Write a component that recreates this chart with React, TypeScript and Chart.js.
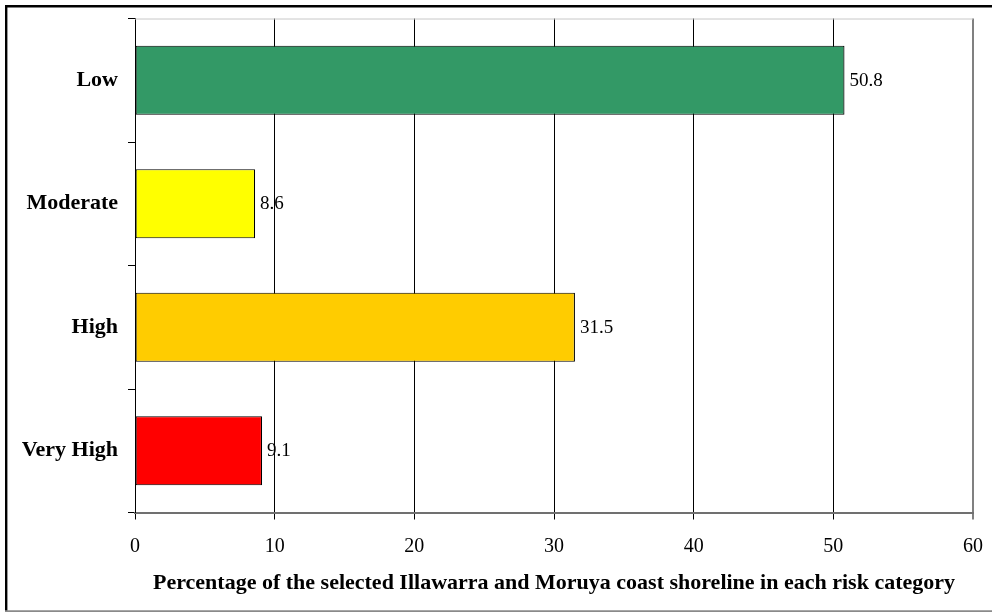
import React, { useEffect, useRef } from "react";
import { Chart, registerables } from "chart.js";

Chart.register(...registerables);

const categories = ["Low", "Moderate", "High", "Very High"];
const percentages = [50.8, 8.6, 31.5, 9.1];
const barColors = ["#339966", "#FFFF00", "#FFCC00", "#FF0000"];
const xTickValues = [0, 10, 20, 30, 40, 50, 60];
const axisTitle =
  "Percentage of the selected Illawarra and Moruya coast shoreline in each risk category";

const SERIF = "'Liberation Serif', 'Times New Roman', serif";

const framePlugin = {
  id: "frame",
  afterDraw(chart: any) {
    const { ctx, chartArea, width, height } = chart;
    ctx.save();
    ctx.strokeStyle = "#c8c8c8";
    ctx.lineWidth = 1;
    ctx.beginPath();
    ctx.moveTo(chartArea.left, chartArea.top + 0.5);
    ctx.lineTo(chartArea.right, chartArea.top + 0.5);
    ctx.stroke();
    ctx.strokeStyle = "#000";
    ctx.lineWidth = 2.4;
    ctx.beginPath();
    ctx.moveTo(5, 6.2);
    ctx.lineTo(width, 6.2);
    ctx.moveTo(6.2, 5);
    ctx.lineTo(6.2, height);
    ctx.stroke();
    ctx.strokeStyle = "#8a8a8a";
    ctx.lineWidth = 1.6;
    ctx.beginPath();
    ctx.moveTo(5, height - 0.9);
    ctx.lineTo(width, height - 0.9);
    ctx.stroke();
    ctx.restore();
  },
};

const valueLabelPlugin = {
  id: "valueLabels",
  afterDatasetsDraw(chart: any) {
    const { ctx } = chart;
    ctx.save();
    ctx.font = `19px ${SERIF}`;
    ctx.fillStyle = "#000";
    ctx.textAlign = "left";
    ctx.textBaseline = "middle";
    chart.data.datasets.forEach((ds: any, di: number) => {
      const meta = chart.getDatasetMeta(di);
      meta.data.forEach((el: any, i: number) => {
        ctx.fillText(String(ds.data[i]), el.x + 5, el.y + 0.5);
      });
    });
    ctx.restore();
  },
};

export default function App() {
  const canvasRef = useRef<HTMLCanvasElement | null>(null);

  useEffect(() => {
    if (!canvasRef.current) return;
    const chart = new Chart(canvasRef.current, {
      type: "bar",
      data: {
        labels: categories,
        datasets: [
          {
            data: percentages,
            backgroundColor: barColors,
            borderColor: "#000",
            borderWidth: 1.2,
            borderSkipped: false,
            barPercentage: 0.56,
            categoryPercentage: 1,
          },
        ],
      },
      options: {
        indexAxis: "y",
        animation: false,
        responsive: true,
        maintainAspectRatio: false,
        layout: { padding: { left: 0, top: 18.5, right: 19, bottom: 0 } },
        plugins: {
          legend: { display: false },
          tooltip: { enabled: false },
          title: { display: false },
        },
        scales: {
          x: {
            type: "linear",
            min: 0,
            max: 60,
            afterBuildTicks(scale: any) {
              scale.ticks = xTickValues.map((v) => ({ value: v }));
            },
            afterFit(scale: any) {
              scale.height = 99.5;
              scale.paddingLeft = 0;
              scale.paddingRight = 0;
            },
            ticks: {
              color: "#000",
              font: { family: SERIF, size: 20 },
              padding: 15,
              maxRotation: 0,
            },
            grid: {
              color: (c: any) => (c.tick && c.tick.value === 60 ? "#808080" : "#000"),
              lineWidth: (c: any) => (c.tick && c.tick.value === 60 ? 2 : 1),
              tickLength: 7,
            },
            border: { color: "#707070", width: 2 },
            title: {
              display: true,
              text: axisTitle,
              color: "#000",
              font: { family: SERIF, size: 22, weight: "bold" },
              padding: { top: 15.8, bottom: 15.8 },
            },
          },
          y: {
            type: "category",
            afterFit(scale: any) {
              scale.width = 135;
              scale.paddingTop = 0;
              scale.paddingBottom = 0;
            },
            ticks: {
              color: "#000",
              font: { family: SERIF, size: 22, weight: "bold" },
              padding: 10,
            },
            grid: {
              drawOnChartArea: false,
              offset: true,
              tickLength: 7,
              color: "#000",
              lineWidth: 1,
            },
            border: { color: "#000", width: 1 },
          },
        },
      },
      plugins: [framePlugin, valueLabelPlugin],
    });
    return () => chart.destroy();
  }, []);

  return (
    <div
      style={{
        position: "fixed",
        left: 0,
        top: 0,
        width: 992,
        height: 612,
        background: "#fff",
      }}
    >
      <canvas ref={canvasRef} />
    </div>
  );
}
